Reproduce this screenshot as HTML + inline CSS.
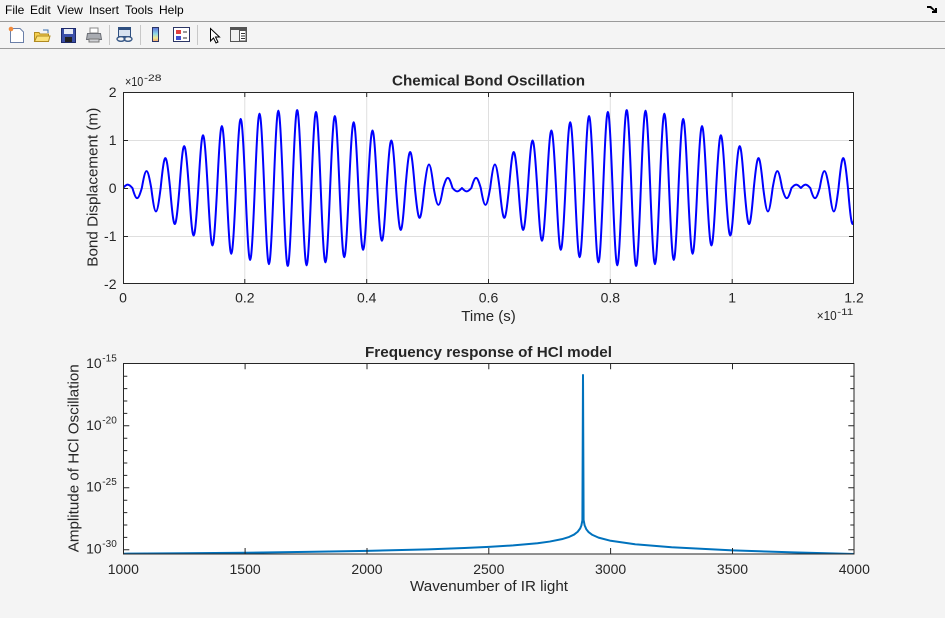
<!DOCTYPE html>
<html><head><meta charset="utf-8">
<style>
html,body{margin:0;padding:0;background:#f4f4f4;}
body{width:945px;height:618px;overflow:hidden;}
svg{display:block;font-family:"Liberation Sans",Arial,sans-serif;}
</style></head>
<body>
<svg width="945" height="618" viewBox="0 0 945 618" xmlns="http://www.w3.org/2000/svg">
<rect x="0" y="0" width="945" height="618" fill="#f4f4f4"/>
<!-- menu bar -->
<g font-size="12" fill="#000">
<text x="5" y="14">File</text>
<text x="30" y="14">Edit</text>
<text x="57" y="14">View</text>
<text x="89" y="14">Insert</text>
<text x="125" y="14">Tools</text>
<text x="159" y="14">Help</text>
</g>
<path d="M927,6 L931,6 L935,10 L935,8 L937,8 L937,13 L932,13 L932,11 L934,11 L930,8 L927,8Z" fill="#000"/>
<line x1="0" y1="21.5" x2="945" y2="21.5" stroke="#9a9a9a" stroke-width="1"/>
<line x1="0" y1="48.5" x2="945" y2="48.5" stroke="#9a9a9a" stroke-width="1"/>
<!-- toolbar icons -->
<g>
 <path d="M10.5,28.5 L20,28.5 L23.5,32 L23.5,42.5 L10.5,42.5Z" fill="#fff" stroke="#6a7fa8"/>
 <circle cx="11" cy="29" r="2.3" fill="#f08a3c"/>
 <path d="M34.5,32.5 L39,32.5 L40,34 L48.5,34 L48.5,41.5 L34.5,41.5Z" fill="#f5cf50" stroke="#b08a20"/>
 <path d="M34.5,41.5 L37,36 L50,36 L48.5,41.5Z" fill="#fbe27a" stroke="#b08a20"/>
 <path d="M43,30 L48,30 L48,33" fill="none" stroke="#3a6fb0" stroke-width="1"/>
 <rect x="61.5" y="28.5" width="14" height="14" fill="#3b4fa8" stroke="#1e2a6a"/>
 <rect x="64" y="29" width="9" height="5" fill="#e8ecf5"/>
 <rect x="65" y="37" width="7" height="5" fill="#222"/>
 <rect x="90" y="28" width="8" height="5" fill="#fff" stroke="#888"/>
 <path d="M87.5,33.5 L100.5,33.5 L101.5,39.5 L86.5,39.5Z" fill="#a9acb2" stroke="#6d7077"/>
 <rect x="89" y="39" width="10" height="3" fill="#d0d2d6" stroke="#777"/>
 <line x1="109.5" y1="25" x2="109.5" y2="45" stroke="#c8c8c8"/>
 <rect x="118.5" y="27.5" width="12" height="9" fill="#d8e2f0" stroke="#2f4f80"/>
 <rect x="118.5" y="27.5" width="12" height="2.5" fill="#2f4f80"/>
 <ellipse cx="121" cy="39" rx="4" ry="2.3" fill="none" stroke="#3a5a88" stroke-width="1.4"/>
 <ellipse cx="128" cy="39" rx="4" ry="2.3" fill="none" stroke="#3a5a88" stroke-width="1.4"/>
 <line x1="140.5" y1="25" x2="140.5" y2="45" stroke="#c8c8c8"/>
 <defs><linearGradient id="cb" x1="0" y1="0" x2="0" y2="1">
  <stop offset="0" stop-color="#5a6fd8"/><stop offset="0.45" stop-color="#8ed8e8"/><stop offset="0.75" stop-color="#f0e890"/><stop offset="1" stop-color="#f0a070"/></linearGradient></defs>
 <rect x="152.5" y="27.5" width="6" height="14" fill="url(#cb)" stroke="#2b3565"/>
 <rect x="173.5" y="27.5" width="16" height="14" fill="#fff" stroke="#2b3565"/>
 <rect x="176" y="30" width="5" height="4" fill="#e04040"/>
 <rect x="176" y="36" width="5" height="4" fill="#4050d0"/>
 <line x1="183" y1="32" x2="187" y2="32" stroke="#333"/>
 <line x1="183" y1="38" x2="187" y2="38" stroke="#333"/>
 <line x1="197.5" y1="25" x2="197.5" y2="45" stroke="#c8c8c8"/>
 <path d="M210.5,28.5 L210.5,41 L213.5,38 L216,43 L218,42 L215.5,37 L219.5,37Z" fill="#fff" stroke="#000"/>
 <rect x="230.5" y="27.5" width="16" height="14" fill="#f0f0f0" stroke="#555"/>
 <rect x="230.5" y="27.5" width="16" height="2.5" fill="#555"/>
 <rect x="239.5" y="30.5" width="6.5" height="10.5" fill="#fff" stroke="#555"/>
 <line x1="241" y1="33.5" x2="245" y2="33.5" stroke="#333"/>
 <line x1="241" y1="36" x2="245" y2="36" stroke="#333"/>
 <line x1="241" y1="38.5" x2="245" y2="38.5" stroke="#333"/>
</g>

<!-- ============ TOP AXES ============ -->
<rect x="123" y="92" width="731" height="192" fill="#fff"/>
<g stroke="#dfdfdf" stroke-width="1">
 <line x1="244.8" y1="92" x2="244.8" y2="284"/>
 <line x1="366.7" y1="92" x2="366.7" y2="284"/>
 <line x1="488.5" y1="92" x2="488.5" y2="284"/>
 <line x1="610.3" y1="92" x2="610.3" y2="284"/>
 <line x1="732.2" y1="92" x2="732.2" y2="284"/>
 <line x1="123" y1="140.5" x2="854" y2="140.5"/>
 <line x1="123" y1="188.5" x2="854" y2="188.5"/>
 <line x1="123" y1="236.5" x2="854" y2="236.5"/>
</g>
<clipPath id="c1"><rect x="123" y="90" width="731" height="196"/></clipPath>
<path fill="none" stroke="#0000ff" stroke-width="2" stroke-linejoin="round" clip-path="url(#c1)" d="M123,188
c4,-4.53 5.415,-4.53 9.415,0
c4,13.57 5.415,13.57 9.415,0
c4,-22.51 5.415,-22.51 9.415,0
c4,31.28 5.415,31.28 9.415,0
c4,-39.80 5.415,-39.80 9.415,0
c4,48.03 5.415,48.03 9.415,0
c4,-55.88 5.415,-55.88 9.415,0
c4,63.31 5.415,63.31 9.415,0
c4,-70.27 5.415,-70.27 9.415,0
c4,76.68 5.415,76.68 9.415,0
c4,-82.51 5.415,-82.51 9.415,0
c4,87.71 5.415,87.71 9.415,0
c4,-92.25 5.415,-92.25 9.415,0
c4,96.08 5.415,96.08 9.415,0
c4,-99.19 5.415,-99.19 9.415,0
c4,101.53 5.415,101.53 9.415,0
c4,-103.11 5.415,-103.11 9.415,0
c4,103.91 5.415,103.91 9.415,0
c4,-103.91 5.415,-103.91 9.415,0
c4,103.11 5.415,103.11 9.415,0
c4,-101.53 5.415,-101.53 9.415,0
c4,99.19 5.415,99.19 9.415,0
c4,-96.08 5.415,-96.08 9.415,0
c4,92.25 5.415,92.25 9.415,0
c4,-87.71 5.415,-87.71 9.415,0
c4,82.51 5.415,82.51 9.415,0
c4,-76.68 5.415,-76.68 9.415,0
c4,70.27 5.415,70.27 9.415,0
c4,-63.31 5.415,-63.31 9.415,0
c4,55.88 5.415,55.88 9.415,0
c4,-48.03 5.415,-48.03 9.415,0
c4,39.80 5.415,39.80 9.415,0
c4,-31.28 5.415,-31.28 9.415,0
c4,22.51 5.415,22.51 9.415,0
c4,-13.57 5.415,-13.57 9.415,0
c4,4.53 5.415,4.53 9.415,0
c4,4.53 5.415,4.53 9.415,0
c4,-13.57 5.415,-13.57 9.415,0
c4,22.51 5.415,22.51 9.415,0
c4,-31.28 5.415,-31.28 9.415,0
c4,39.80 5.415,39.80 9.415,0
c4,-48.03 5.415,-48.03 9.415,0
c4,55.88 5.415,55.88 9.415,0
c4,-63.31 5.415,-63.31 9.415,0
c4,70.27 5.415,70.27 9.415,0
c4,-76.68 5.415,-76.68 9.415,0
c4,82.51 5.415,82.51 9.415,0
c4,-87.71 5.415,-87.71 9.415,0
c4,92.25 5.415,92.25 9.415,0
c4,-96.08 5.415,-96.08 9.415,0
c4,99.19 5.415,99.19 9.415,0
c4,-101.53 5.415,-101.53 9.415,0
c4,103.11 5.415,103.11 9.415,0
c4,-103.91 5.415,-103.91 9.415,0
c4,103.91 5.415,103.91 9.415,0
c4,-103.11 5.415,-103.11 9.415,0
c4,101.53 5.415,101.53 9.415,0
c4,-99.19 5.415,-99.19 9.415,0
c4,96.08 5.415,96.08 9.415,0
c4,-92.25 5.415,-92.25 9.415,0
c4,87.71 5.415,87.71 9.415,0
c4,-82.51 5.415,-82.51 9.415,0
c4,76.68 5.415,76.68 9.415,0
c4,-70.27 5.415,-70.27 9.415,0
c4,63.31 5.415,63.31 9.415,0
c4,-55.88 5.415,-55.88 9.415,0
c4,48.03 5.415,48.03 9.415,0
c4,-39.80 5.415,-39.80 9.415,0
c4,31.28 5.415,31.28 9.415,0
c4,-22.51 5.415,-22.51 9.415,0
c4,13.57 5.415,13.57 9.415,0
c4,-4.53 5.415,-4.53 9.415,0
c4,-4.53 5.415,-4.53 9.415,0
c4,13.57 5.415,13.57 9.415,0
c4,-22.51 5.415,-22.51 9.415,0
c4,31.28 5.415,31.28 9.415,0
c4,-39.80 5.415,-39.80 9.415,0
c4,48.03 5.415,48.03 9.415,0"/>
<g stroke="#262626" stroke-width="1" fill="none">
 <rect x="123.5" y="92.5" width="730" height="191"/>
 <path d="M244.8,92 v5 M366.7,92 v5 M488.5,92 v5 M610.3,92 v5 M732.2,92 v5
          M244.8,284 v-5 M366.7,284 v-5 M488.5,284 v-5 M610.3,284 v-5 M732.2,284 v-5
          M123,140.5 h5 M123,188.5 h5 M123,236.5 h5
          M854,140.5 h-5 M854,188.5 h-5 M854,236.5 h-5"/>
</g>
<g fill="#262626" font-size="14">
 <text x="488.5" y="85.5" text-anchor="middle" font-weight="bold" font-size="14.5" textLength="193" lengthAdjust="spacingAndGlyphs">Chemical Bond Oscillation</text>
 <text x="125" y="86" font-size="12.5" textLength="18.3" lengthAdjust="spacingAndGlyphs">×10</text>
 <text x="144" y="81" font-size="9.5" textLength="17.5" lengthAdjust="spacingAndGlyphs">-28</text>
 <text x="116.5" y="97" text-anchor="end">2</text>
 <text x="116.5" y="145" text-anchor="end">1</text>
 <text x="116.5" y="193" text-anchor="end">0</text>
 <text x="116.5" y="241" text-anchor="end">-1</text>
 <text x="116.5" y="289" text-anchor="end">-2</text>
 <text x="123" y="302.5" text-anchor="middle">0</text>
 <text x="244.8" y="302.5" text-anchor="middle">0.2</text>
 <text x="366.7" y="302.5" text-anchor="middle">0.4</text>
 <text x="488.5" y="302.5" text-anchor="middle">0.6</text>
 <text x="610.3" y="302.5" text-anchor="middle">0.8</text>
 <text x="732.2" y="302.5" text-anchor="middle">1</text>
 <text x="854" y="302.5" text-anchor="middle">1.2</text>
 <text x="488.5" y="321" text-anchor="middle" font-size="15">Time (s)</text>
 <text x="816.7" y="320" font-size="12.5" textLength="20" lengthAdjust="spacingAndGlyphs">×10</text>
 <text x="837.3" y="315" font-size="9.5" textLength="16" lengthAdjust="spacingAndGlyphs">-11</text>
 <text transform="translate(97.5,187.2) rotate(-90)" text-anchor="middle" font-size="15" textLength="159" lengthAdjust="spacingAndGlyphs">Bond Displacement (m)</text>
</g>

<!-- ============ BOTTOM AXES ============ -->
<rect x="123.3" y="363.3" width="731" height="190.7" fill="#fff"/>
<clipPath id="c2"><rect x="123.3" y="363.3" width="731" height="191"/></clipPath>
<path fill="none" stroke="#0072bd" stroke-width="2" stroke-linejoin="round" clip-path="url(#c2)" d="M123.3,553.7
L184.2,553.27 L245.1,552.70 L306.1,551.92 L367.0,550.87 L427.9,549.35 L464.4,548.06
L488.8,546.92 L513.2,545.41 L537.5,543.20 L549.7,541.57 L561.9,539.16 L569.2,536.90
L574.1,534.57 L577.7,531.74 L580.2,528.40 L581.4,525.37 L582.4,520.36 L583.0,375
L583.6,519.93 L584.6,525.21 L586.3,529.20 L588.7,532.21 L592.4,534.89 L598.5,537.62
L610.7,540.79 L635.0,544.29 L671.6,547.29 L732.5,550.32 L793.4,552.37 L854.3,553.94"/>
<g stroke="#262626" stroke-width="1" fill="none">
 <rect x="123.5" y="363.5" width="730.5" height="190.5"/>
 <path d="M245.1,363.3v6 M367,363.3v6 M488.8,363.3v6 M610.6,363.3v6 M732.5,363.3v6
  M245.1,554v-6 M367,554v-6 M488.8,554v-6 M610.6,554v-6 M732.5,554v-6
  M123.3,376.2h4 M123.3,388.6h4 M123.3,401h4 M123.3,413.4h4 M123.3,425.8h6
  M123.3,438.2h4 M123.3,450.6h4 M123.3,463h4 M123.3,475.4h4 M123.3,487.8h6
  M123.3,500.2h4 M123.3,512.6h4 M123.3,525h4 M123.3,537.4h4 M123.3,549.8h6
  M854.3,376.2h-4 M854.3,388.6h-4 M854.3,401h-4 M854.3,413.4h-4 M854.3,425.8h-6
  M854.3,438.2h-4 M854.3,450.6h-4 M854.3,463h-4 M854.3,475.4h-4 M854.3,487.8h-6
  M854.3,500.2h-4 M854.3,512.6h-4 M854.3,525h-4 M854.3,537.4h-4 M854.3,549.8h-6"/>
</g>
<g fill="#262626" font-size="14">
 <text x="488.5" y="357" text-anchor="middle" font-weight="bold" font-size="14.5" textLength="247" lengthAdjust="spacingAndGlyphs">Frequency response of HCl model</text>
 <text x="101.7" y="368" text-anchor="end">10</text>
 <text x="102.3" y="361.5" font-size="10">-15</text>
 <text x="101.7" y="430" text-anchor="end">10</text>
 <text x="102.3" y="423.5" font-size="10">-20</text>
 <text x="101.7" y="491.7" text-anchor="end">10</text>
 <text x="102.3" y="485.2" font-size="10">-25</text>
 <text x="101.7" y="553.7" text-anchor="end">10</text>
 <text x="102.3" y="547.2" font-size="10">-30</text>
 <text x="123.3" y="574" text-anchor="middle">1000</text>
 <text x="245.1" y="574" text-anchor="middle">1500</text>
 <text x="367" y="574" text-anchor="middle">2000</text>
 <text x="488.8" y="574" text-anchor="middle">2500</text>
 <text x="610.6" y="574" text-anchor="middle">3000</text>
 <text x="732.5" y="574" text-anchor="middle">3500</text>
 <text x="854.3" y="574" text-anchor="middle">4000</text>
 <text x="489" y="591" text-anchor="middle" font-size="15" textLength="158" lengthAdjust="spacingAndGlyphs">Wavenumber of IR light</text>
 <text transform="translate(78.5,458.3) rotate(-90)" text-anchor="middle" font-size="15" textLength="188" lengthAdjust="spacingAndGlyphs">Amplitude of HCl Oscillation</text>
</g>
</svg>
</body></html>
